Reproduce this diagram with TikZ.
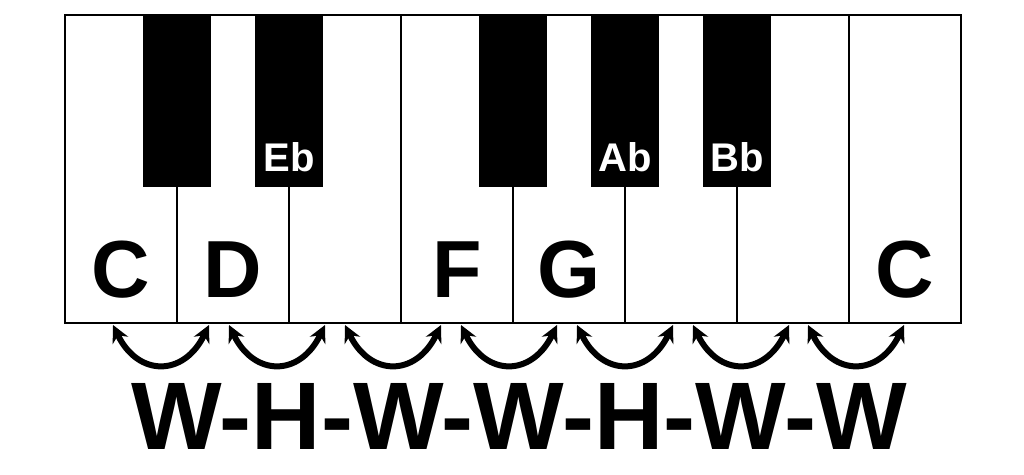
\documentclass[tikz,border=0pt]{standalone}
\usepackage{fontspec}
\setmainfont{Liberation Sans}
\usepackage{tikz}
\usetikzlibrary{arrows.meta, positioning}
\tikzstyle{whitekey} = [rectangle, draw=black, fill=white, line width=2pt, minimum width=112pt, minimum height=308pt, inner sep=0pt, outer sep=0pt]
\tikzstyle{blackkey} = [rectangle, fill=black, minimum width=68pt, minimum height=172pt, inner sep=0pt, outer sep=0pt, anchor=north]
\tikzstyle{keyname} = [font=\fontsize{81}{81}\selectfont\bfseries, inner sep=0pt, anchor=base]
\tikzstyle{flatname} = [font=\fontsize{40}{40}\selectfont\bfseries, text=white, inner sep=0pt, anchor=base]
\tikzstyle{pattern} = [font=\fontsize{96}{96}\selectfont\bfseries, inner sep=0pt, anchor=base]
\tikzstyle{interval} = [line width=6pt, {Stealth[length=17pt,width=17pt]}-{Stealth[length=17pt,width=17pt]}]

\begin{document}
\begin{tikzpicture}[x=1pt, y=-1pt, node distance=0pt]
    \useasboundingbox[fill=white] (0,0) rectangle (1024,474);

    % white keys
    \node (kC) [whitekey, anchor=north west] at (65,15) {};
    \node (kD) [whitekey, right=of kC] {};
    \node (kE) [whitekey, right=of kD] {};
    \node (kF) [whitekey, right=of kE] {};
    \node (kG) [whitekey, right=of kF] {};
    \node (kA) [whitekey, right=of kG] {};
    \node (kB) [whitekey, right=of kA] {};
    \node (kHC) [whitekey, right=of kB] {};

    % black keys
    \node (kCs) [blackkey] at (kC.north east) {};
    \node (kEb) [blackkey] at (kD.north east) {};
    \node (kFs) [blackkey] at (kF.north east) {};
    \node (kAb) [blackkey] at (kG.north east) {};
    \node (kBb) [blackkey] at (kA.north east) {};

    % note names
    \node (nC) [keyname] at ([yshift=26pt]kC.south) {C};
    \node (nD) [keyname] at ([yshift=26pt]kD.south) {D};
    \node (nF) [keyname] at ([yshift=26pt]kF.south) {F};
    \node (nG) [keyname] at ([yshift=26pt]kG.south) {G};
    \node (nHC) [keyname] at ([yshift=26pt]kHC.south) {C};
    \node (nEb) [flatname] at ([yshift=16pt]kEb.south) {Eb};
    \node (nAb) [flatname] at ([yshift=16pt]kAb.south) {Ab};
    \node (nBb) [flatname] at ([yshift=16pt]kBb.south) {Bb};

    % steps
    \coordinate (s1) at (113,325); \coordinate (e1) at (209,325);
    \coordinate (s2) at (229,325); \coordinate (e2) at (325,325);
    \coordinate (s3) at (345,325); \coordinate (e3) at (441,325);
    \coordinate (s4) at (461,325); \coordinate (e4) at (557,325);
    \coordinate (s5) at (577,325); \coordinate (e5) at (673,325);
    \coordinate (s6) at (693,325); \coordinate (e6) at (789,325);
    \coordinate (s7) at (808,325); \coordinate (e7) at (904,325);
    \draw [interval] (s1) .. controls +(25,52) and +(-25,52) .. (e1);
    \draw [interval] (s2) .. controls +(25,52) and +(-25,52) .. (e2);
    \draw [interval] (s3) .. controls +(25,52) and +(-25,52) .. (e3);
    \draw [interval] (s4) .. controls +(25,52) and +(-25,52) .. (e4);
    \draw [interval] (s5) .. controls +(25,52) and +(-25,52) .. (e5);
    \draw [interval] (s6) .. controls +(25,52) and +(-25,52) .. (e6);
    \draw [interval] (s7) .. controls +(25,52) and +(-25,52) .. (e7);

    \node (steps) [pattern] at (519,449) {W-H-W-W-H-W-W};
\end{tikzpicture}
\end{document}
